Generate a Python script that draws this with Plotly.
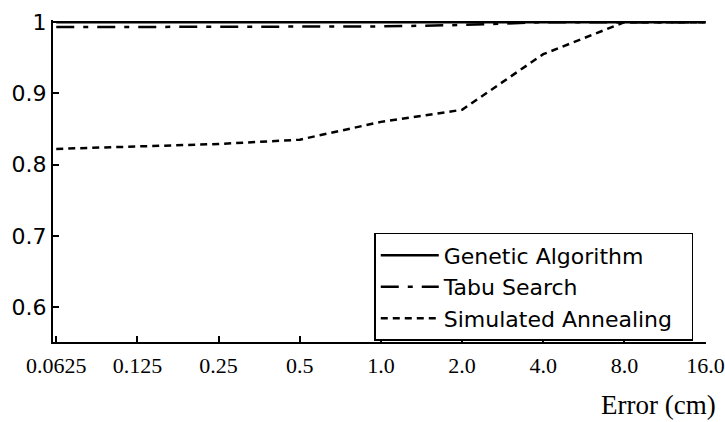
import plotly.graph_objects as go

x_labels = ["0.0625", "0.125", "0.25", "0.5", "1.0", "2.0", "4.0", "8.0", "16.0"]
x_pos = list(range(len(x_labels)))
genetic = [1.0, 1.0, 1.0, 1.0, 1.0, 1.0, 1.0, 1.0, 1.0]
tabu = [0.993, 0.993, 0.993, 0.993, 0.994, 0.996, 1.0, 1.0, 1.0]
annealing = [0.822, 0.825, 0.829, 0.835, 0.860, 0.877, 0.955, 1.0, 1.0]
y_ticks = [0.6, 0.7, 0.8, 0.9, 1.0]
y_ticktext = ["0.6", "0.7", "0.8", "0.9", "1"]
series_names = ["Genetic Algorithm", "Tabu Search", "Simulated Annealing"]

fig = go.Figure()
fig.add_trace(go.Scatter(x=x_pos, y=genetic, mode="lines", name=series_names[0],
                         line=dict(color="black", width=2.5)))
fig.add_trace(go.Scatter(x=x_pos, y=tabu, mode="lines", name=series_names[1],
                         line=dict(color="black", width=2.5, dash="18px,9px,5px,9px")))
fig.add_trace(go.Scatter(x=x_pos, y=annealing, mode="lines",
                         name=series_names[2] + "\u00a0\u00a0",
                         line=dict(color="black", width=2.5, dash="7px,5px")))

fig.update_layout(
    width=725, height=422,
    margin=dict(l=53, r=19, t=20, b=80, autoexpand=False),
    plot_bgcolor="white", paper_bgcolor="white",
    showlegend=True,
    legend=dict(x=0.492, y=0.339, xanchor="left", yanchor="top",
                bgcolor="white", bordercolor="black", borderwidth=1.5,
                font=dict(family="DejaVu Sans", size=22, color="black"),
                itemwidth=58, tracegroupgap=0),
    xaxis=dict(range=[-0.04, 8.005], tickmode="array", tickvals=x_pos, ticktext=x_labels,
               showgrid=False, zeroline=False, showline=True, linecolor="black", linewidth=2,
               ticks="inside", ticklen=6, tickwidth=1.5, tickcolor="black",
               ticklabelstandoff=3, automargin=False,
               tickfont=dict(family="Liberation Serif", size=22, color="black")),
    yaxis=dict(range=[0.551, 1.003], tickmode="array", tickvals=y_ticks, ticktext=y_ticktext,
               showgrid=False, zeroline=False, showline=True, linecolor="black", linewidth=2,
               ticks="inside", ticklen=6, tickwidth=1.5, tickcolor="black", automargin=False,
               tickfont=dict(family="DejaVu Sans", size=22, color="black")),
    annotations=[dict(text="Error (cm)", xref="paper", yref="paper", x=1.0, y=-0.196,
                      xanchor="right", yanchor="middle", showarrow=False, xshift=12,
                      font=dict(family="Liberation Serif", size=27, color="black"))],
)

fig.write_html("out.html")
